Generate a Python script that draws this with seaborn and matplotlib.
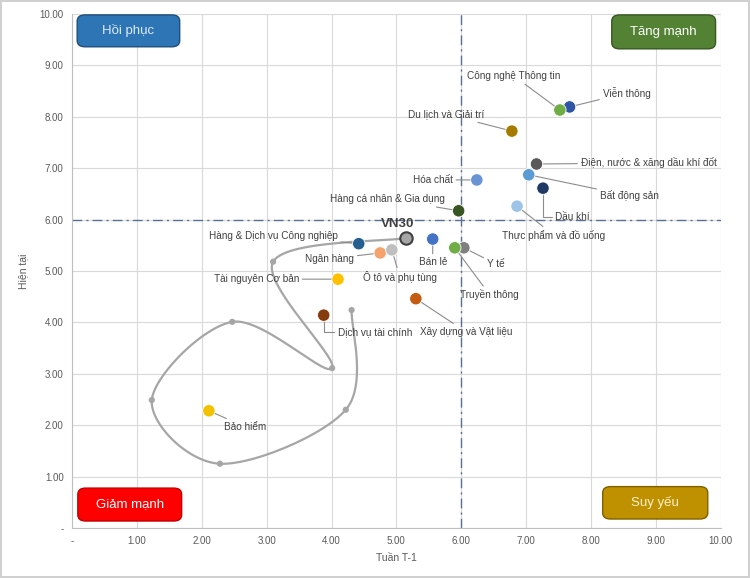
import numpy as np
import pandas as pd
import seaborn as sns
import matplotlib
matplotlib.use("Agg")
import matplotlib.pyplot as plt
from matplotlib.patches import FancyBboxPatch

# sectors: name, x = Tuần T-1, y = Hiện tại
sectors = ["Viễn thông", "Công nghệ Thông tin", "Du lịch và Giải trí",
           "Điện, nước & xăng dầu khí đốt", "Hóa chất", "Bất động sản", "Dầu khí",
           "Thực phẩm và đồ uống", "Hàng cá nhân & Gia dụng", "Hàng & Dịch vụ Công nghiệp",
           "Bán lẻ", "Y tế", "Truyền thông", "Ngân hàng", "Ô tô và phụ tùng",
           "Tài nguyên Cơ bản", "Xây dựng và Vật liệu", "Dịch vụ tài chính", "Bảo hiểm"]
tuan_t1 = [7.67, 7.52, 6.78, 7.16, 6.24, 7.04, 7.26, 6.86, 5.96, 4.42,
           5.56, 6.04, 5.90, 4.75, 4.93, 4.10, 5.30, 3.88, 2.11]
hien_tai = [8.19, 8.13, 7.72, 7.08, 6.77, 6.87, 6.61, 6.26, 6.17, 5.53,
            5.62, 5.45, 5.45, 5.35, 5.41, 4.84, 4.46, 4.14, 2.28]
colors = ["#2F55A4", "#70AD47", "#A67C00", "#595959", "#6A93D4", "#5B9BD5", "#1F3864",
          "#9DC3E6", "#375623", "#255E91", "#4472C4", "#7F7F7F", "#70AD47", "#F4A46A",
          "#BFBFBF", "#FFC000", "#C55A11", "#843C0C", "#F2C200"]

# VN30 trail (oldest first) and current point
vn30_x = [4.31, 4.22, 2.28, 1.23, 2.47, 4.01, 3.10]
vn30_y = [4.24, 2.30, 1.25, 2.49, 4.01, 3.11, 5.18]
vn30_now = (5.15, 5.64)

ticks = [0, 1, 2, 3, 4, 5, 6, 7, 8, 9, 10]
tick_labels = ["-"] + [f"{t:.2f}" for t in ticks[1:]]

# label layout: offset in pixels from point, alignment, elbow line
label_pos = {
    "Viễn thông": (33, 14, "left", None),
    "Công nghệ Thông tin": (-46, 34, "center", None),
    "Du lịch và Giải trí": (-28, 17, "right", None),
    "Điện, nước & xăng dầu khí đốt": (44, 1, "left", None),
    "Hóa chất": (-24, 0, "right", None),
    "Bất động sản": (71, -21, "left", None),
    "Dầu khí": (12, -29, "left", "angle,angleA=0,angleB=90,rad=0"),
    "Thực phẩm và đồ uống": (37, -29, "center", None),
    "Hàng cá nhân & Gia dụng": (-14, 12, "right", None),
    "Hàng & Dịch vụ Công nghiệp": (-21, 8, "right", None),
    "Bán lẻ": (0, -23, "center", None),
    "Y tế": (23, -16, "left", None),
    "Truyền thông": (35, -47, "center", None),
    "Ngân hàng": (-26, -6, "right", None),
    "Ô tô và phụ tùng": (8, -27, "center", None),
    "Tài nguyên Cơ bản": (-39, 0, "right", None),
    "Xây dựng và Vật liệu": (50, -33, "center", None),
    "Dịch vụ tài chính": (14, -17, "left", "angle,angleA=0,angleB=90,rad=0"),
    "Bảo hiểm": (15, -16, "left", None),
}


def catmull_rom(px, py, n=30):
    p = np.column_stack([px, py])
    p = np.vstack([p[0], p, p[-1]])
    out = []
    t = np.linspace(0, 1, n)[:, None]
    for i in range(1, len(p) - 2):
        p0, p1, p2, p3 = p[i - 1], p[i], p[i + 1], p[i + 2]
        seg = 0.5 * ((2 * p1) + (-p0 + p2) * t + (2 * p0 - 5 * p1 + 4 * p2 - p3) * t ** 2
                     + (-p0 + 3 * p1 - 3 * p2 + p3) * t ** 3)
        out.append(seg)
    out = np.vstack(out)
    return out[:, 0], out[:, 1]


sns.set_theme(style="whitegrid")
plt.rcParams["font.family"] = ["Liberation Sans", "DejaVu Sans"]

df = pd.DataFrame({"sector": sectors, "x": tuan_t1, "y": hien_tai})
pal = dict(zip(sectors, colors))

fig = plt.figure(figsize=(7.5, 5.78), dpi=100)
ax = fig.add_axes([0.096, 0.0865, 0.865, 0.8895])
fig.patch.set_edgecolor("#D0D0D0")
fig.patch.set_linewidth(1.5)

ax.set_xlim(0, 10)
ax.set_ylim(0, 10)
ax.grid(True, color="#D9D9D9", lw=0.8)
for s in ["top", "right"]:
    ax.spines[s].set_visible(False)
for s in ["left", "bottom"]:
    ax.spines[s].set_color("#BFBFBF")
    ax.spines[s].set_linewidth(0.8)

# quadrant lines
ls = (0, (7, 3, 1.5, 3))
ax.axvline(6, color="#5A6E96", lw=1, ls=ls, zorder=1)
ax.axhline(6, color="#5A6E96", lw=1, ls=ls, zorder=1)

# VN30 trail
tx, ty = catmull_rom(vn30_x + [vn30_now[0]], vn30_y + [vn30_now[1]])
sns.lineplot(x=tx, y=ty, sort=False, estimator=None, color="#A6A6A6", lw=1.6, ax=ax, zorder=2)
sns.scatterplot(x=vn30_x, y=vn30_y, color="#A6A6A6", s=20, edgecolor="none", ax=ax, zorder=3)

# sectors
sns.scatterplot(data=df, x="x", y="y", hue="sector", palette=pal, legend=False,
                s=80, edgecolor="white", linewidth=0.6, ax=ax, zorder=4)
sns.scatterplot(x=[vn30_now[0]], y=[vn30_now[1]], color="#A6A6A6", s=80,
                edgecolor="#404040", linewidth=1.5, ax=ax, zorder=5)
ax.annotate("VN30", vn30_now, xytext=(-9, 14), textcoords="offset pixels",
            ha="center", va="center", fontsize=9.5, fontweight="bold", color="#404040",
            zorder=6)

for name, xv, yv in zip(sectors, tuan_t1, hien_tai):
    dx, dy, ha, conn = label_pos[name]
    arrow = dict(arrowstyle="-", color="#8C8C8C", lw=0.8, shrinkA=0, shrinkB=5)
    if conn:
        arrow["connectionstyle"] = conn
    ax.annotate(name, (xv, yv), xytext=(dx, dy), textcoords="offset pixels",
                ha=ha, va="center", fontsize=7.2, color="#404040",
                arrowprops=arrow, zorder=6)

# quadrant boxes
boxes = [("Hồi phục", 0.008, 0.936, 0.158, 0.062, "#2E75B6", "#1F4E79", "#DDEBF7"),
         ("Tăng mạnh", 0.832, 0.932, 0.160, 0.066, "#548235", "#385723", "#FFFFFF"),
         ("Giảm mạnh", 0.009, 0.0136, 0.160, 0.064, "#FF0000", "#C00000", "#FFFFFF"),
         ("Suy yếu", 0.818, 0.0175, 0.162, 0.063, "#BF9000", "#7F6000", "#FFF2CC")]
for txt, bx, by, bw, bh, fc, ec, tc in boxes:
    ax.add_patch(FancyBboxPatch((bx, by), bw, bh, boxstyle="round,pad=0,rounding_size=0.012",
                                transform=ax.transAxes, fc=fc, ec=ec, lw=1, zorder=7))
    ax.text(bx + bw / 2, by + bh / 2, txt, transform=ax.transAxes, ha="center",
            va="center", fontsize=9.5, color=tc, zorder=8)

ax.set_xticks(ticks)
ax.set_xticklabels(tick_labels)
ax.set_yticks(ticks)
ax.set_yticklabels(tick_labels)
ax.tick_params(labelsize=7, colors="#595959", length=0, pad=6)
ax.set_xlabel("Tuần T-1", fontsize=7.5, color="#595959", labelpad=5)
ax.set_ylabel("Hiện tại", fontsize=7.5, color="#595959", labelpad=8)

fig.savefig("out.png", dpi=100)
